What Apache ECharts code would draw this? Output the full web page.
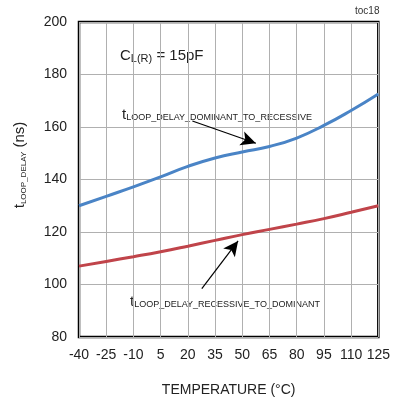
<!DOCTYPE html>
<html><head><meta charset="utf-8">
<script src="https://cdn.jsdelivr.net/npm/echarts@6/dist/echarts.min.js"></script>
<style>html,body{margin:0;padding:0;background:#fff}#c{width:393px;height:402px}</style>
</head><body><div id="c"></div>
<script>
// Data
var temps = [-40, -25, -10, 5, 20, 35, 50, 65, 80, 95, 110, 125];
var domToRec = [130, 133.6, 137.2, 141, 145, 148.2, 150.5, 152.6, 155.8, 160.6, 166.3, 172.6];
var recToDom = [107, 108.8, 110.6, 112.5, 114.6, 116.8, 119, 121, 123, 125.1, 127.5, 130];
var xTicks = [-40, -25, -10, 5, 20, 35, 50, 65, 80, 95, 110, 125];
var yTicks = [80, 100, 120, 140, 160, 180, 200];
var arrowDom = [[22.5, 162.3], [57.5, 153.8]];
var arrowRec = [[27.7, 98.4], [47.7, 116.6]];

var X0 = xTicks[0];
function shift(t){ return t - X0; }
var font = '"Liberation Sans",Arial,sans-serif';

var chart = echarts.init(document.getElementById('c'), null, {renderer:'canvas'});
chart.setOption({
  animation:false,
  grid:{left:79, right:12, top:22, bottom:60, show:true, borderColor:'#000', borderWidth:2.5, containLabel:false},
  xAxis:{type:'value', min:0, max:shift(xTicks[xTicks.length-1]), interval:15,
    axisLine:{show:false}, axisTick:{show:false},
    axisLabel:{formatter:function(v){return String(v+X0);}, color:'#222', fontSize:14, fontFamily:font, margin:11},
    splitLine:{show:true, lineStyle:{color:'#b0b0b0', width:1}},
    name:'TEMPERATURE (°C)', nameLocation:'middle', nameGap:46,
    nameTextStyle:{color:'#222', fontSize:14, fontFamily:font}},
  yAxis:{type:'value', min:yTicks[0], max:yTicks[yTicks.length-1], interval:20,
    axisLine:{show:false}, axisTick:{show:false},
    axisLabel:{color:'#222', fontSize:14, fontFamily:font, margin:12},
    splitLine:{show:true, lineStyle:{color:'#b0b0b0', width:1}}},
  series:[
    {type:'line', smooth:true, symbol:'none', data:temps.map(function(t,i){return [shift(t), domToRec[i]];}),
     lineStyle:{color:'#4a84c6', width:3}, z:3,
     markLine:{silent:true, symbol:['none','arrow'], symbolSize:[11,15], label:{show:false},
       lineStyle:{color:'#000', width:1.2, type:'solid'},
       data:[[{coord:[shift(arrowDom[0][0]), arrowDom[0][1]]},{coord:[shift(arrowDom[1][0]), arrowDom[1][1]]}]]}},
    {type:'line', smooth:true, symbol:'none', data:temps.map(function(t,i){return [shift(t), recToDom[i]];}),
     lineStyle:{color:'#c0444a', width:3}, z:3,
     markLine:{silent:true, symbol:['none','arrow'], symbolSize:[11,15], label:{show:false},
       lineStyle:{color:'#000', width:1.2, type:'solid'},
       data:[[{coord:[shift(arrowRec[0][0]), arrowRec[0][1]]},{coord:[shift(arrowRec[1][0]), arrowRec[1][1]]}]]}}
  ],
  graphic:[
    {type:'text', left:355, top:6, style:{text:'toc18', fontSize:10, fontFamily:font, fill:'#333'}},
    {type:'text', x:20, y:165, rotation:Math.PI/2,
      style:{text:'t{s|LOOP_DELAY} (ns)', fontSize:15, fontFamily:font, fill:'#222', align:'center', verticalAlign:'middle',
      rich:{s:{fontSize:8, fontFamily:font, fill:'#222', verticalAlign:'bottom', padding:[6,0,0,0]}}}},
    {type:'text', left:120, top:48, style:{text:'C{s|L(R)} = 15pF', fontSize:15, fontFamily:font, fill:'#222',
      rich:{s:{fontSize:11, fontFamily:font, fill:'#222', verticalAlign:'bottom', padding:[7,0,0,0]}}}},
    {type:'text', left:122, top:107, style:{text:'t{s|LOOP_DELAY_DOMINANT_TO_RECESSIVE}', fontSize:15, fontFamily:font, fill:'#222',
      rich:{s:{fontSize:9, fontFamily:font, fill:'#222', verticalAlign:'bottom', padding:[6,0,0,0]}}}},
    {type:'text', left:130, top:294, style:{text:'t{s|LOOP_DELAY_RECESSIVE_TO_DOMINANT}', fontSize:15, fontFamily:font, fill:'#222',
      rich:{s:{fontSize:9, fontFamily:font, fill:'#222', verticalAlign:'bottom', padding:[6,0,0,0]}}}}
  ]
});
</script></body></html>
